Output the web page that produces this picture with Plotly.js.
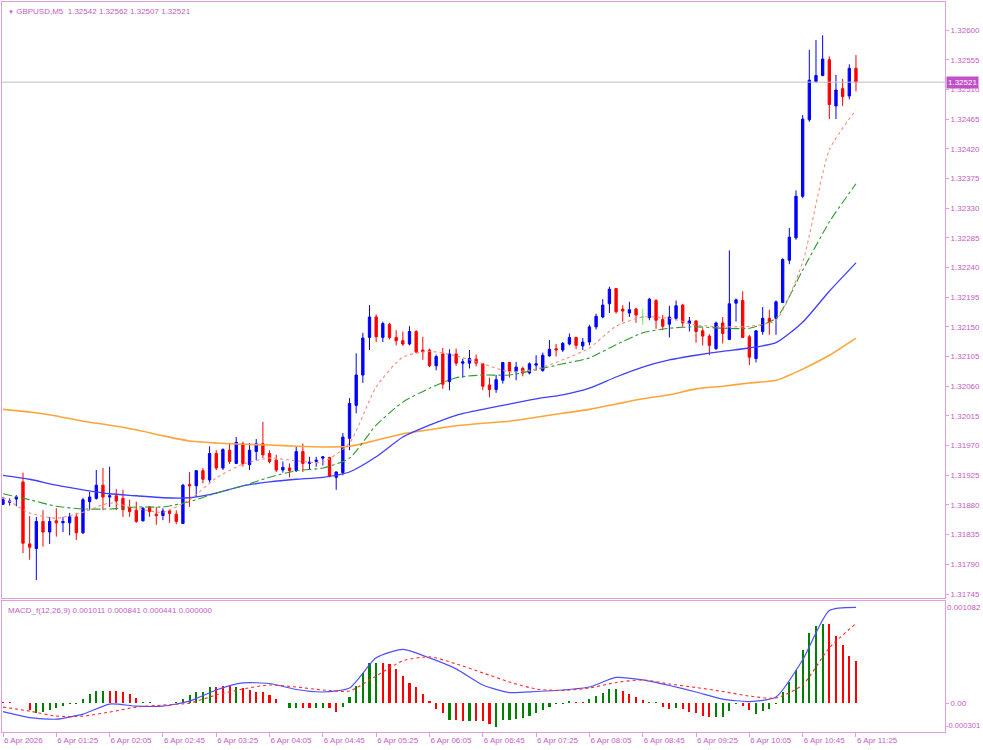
<!DOCTYPE html>
<html><head><meta charset="utf-8">
<script src="https://cdn.plot.ly/plotly-3.0.1.min.js"></script>
<style>body{margin:0;background:#fff}#chart{width:983px;height:750px}</style>
</head><body><div id="chart"></div>
<script>
const symbolName = 'GBPUSD,M5';
const firstBarMinute = 45;   // 00:45
const barMinutes = 5;

const candleOpen = [
1.31881,1.31884,1.31889,1.31915,1.31821,1.31814,1.31855,1.31839,1.31856,1.31853,
1.31853,1.31862,1.31838,1.31885,1.31890,1.31910,1.31892,1.31894,1.31890,1.31877,
1.31872,1.31856,1.31877,1.31866,1.31864,1.31871,1.31866,1.31852,1.31911,1.31909,
1.31932,1.31918,1.31958,1.31936,1.31963,1.31943,1.31973,1.31941,1.31961,1.31973,
1.31958,1.31948,1.31933,1.31936,1.31932,1.31961,1.31943,1.31946,1.31951,1.31952,
1.31922,1.31929,1.31981,1.32031,1.32077,1.32134,1.32165,1.32134,1.32154,1.32134,
1.32129,1.32124,1.32143,1.32115,1.32115,1.32091,1.32109,1.32067,1.32109,1.32095,
1.32095,1.32101,1.32094,1.32062,1.32055,1.32069,1.32096,1.32082,1.32087,1.32080,
1.32092,1.32084,1.32106,1.32117,1.32115,1.32124,1.32134,1.32121,1.32127,1.32150,
1.32165,1.32185,1.32208,1.32177,1.32171,1.32177,1.32165,1.32164,1.32190,1.32161,
1.32154,1.32163,1.32183,1.32155,1.32159,1.32144,1.32136,1.32117,1.32156,1.32131,
1.32186,1.32190,1.32135,1.32102,1.32143,1.32163,1.32163,1.32187,1.32251,1.32285,
1.32348,1.32464,1.32522,1.32531,1.32555,1.32485,1.32511,1.32500,1.32542];
const candleHigh = [
1.31892,1.31890,1.31895,1.31929,1.31863,1.31862,1.31872,1.31862,1.31875,1.31862,
1.31868,1.31868,1.31891,1.31900,1.31933,1.31936,1.31938,1.31904,1.31903,1.31888,
1.31885,1.31877,1.31878,1.31877,1.31875,1.31873,1.31872,1.31912,1.31930,1.31933,
1.31936,1.31969,1.31963,1.31966,1.31974,1.31983,1.31976,1.31974,1.31980,1.32006,
1.31963,1.31956,1.31946,1.31943,1.31968,1.31973,1.31953,1.31953,1.31954,1.31953,
1.31931,1.31989,1.32042,1.32110,1.32141,1.32183,1.32169,1.32158,1.32156,1.32145,
1.32143,1.32151,1.32145,1.32135,1.32117,1.32108,1.32118,1.32116,1.32117,1.32102,
1.32115,1.32108,1.32095,1.32073,1.32077,1.32097,1.32097,1.32097,1.32090,1.32096,
1.32107,1.32111,1.32130,1.32124,1.32127,1.32140,1.32135,1.32133,1.32153,1.32170,
1.32192,1.32211,1.32209,1.32183,1.32188,1.32179,1.32177,1.32194,1.32192,1.32168,
1.32182,1.32190,1.32185,1.32165,1.32160,1.32148,1.32139,1.32158,1.32165,1.32266,
1.32193,1.32204,1.32138,1.32145,1.32180,1.32176,1.32190,1.32254,1.32300,1.32357,
1.32471,1.32570,1.32585,1.32592,1.32560,1.32532,1.32526,1.32548,1.32562];
const candleLow = [
1.31880,1.31879,1.31878,1.31807,1.31797,1.31766,1.31817,1.31821,1.31832,1.31839,
1.31834,1.31827,1.31836,1.31872,1.31888,1.31872,1.31877,1.31872,1.31862,1.31862,
1.31853,1.31855,1.31862,1.31850,1.31857,1.31853,1.31851,1.31851,1.31877,1.31892,
1.31913,1.31914,1.31933,1.31933,1.31942,1.31942,1.31938,1.31933,1.31948,1.31951,
1.31943,1.31930,1.31929,1.31922,1.31930,1.31930,1.31933,1.31938,1.31940,1.31922,
1.31903,1.31925,1.31963,1.32019,1.32065,1.32115,1.32127,1.32127,1.32131,1.32122,
1.32121,1.32122,1.32110,1.32100,1.32089,1.32084,1.32056,1.32054,1.32091,1.32073,
1.32087,1.32090,1.32054,1.32043,1.32050,1.32064,1.32073,1.32069,1.32075,1.32078,
1.32084,1.32082,1.32105,1.32105,1.32112,1.32122,1.32116,1.32115,1.32122,1.32146,
1.32163,1.32171,1.32170,1.32158,1.32165,1.32156,1.32153,1.32160,1.32147,1.32145,
1.32134,1.32160,1.32150,1.32143,1.32126,1.32122,1.32107,1.32115,1.32125,1.32130,
1.32158,1.32133,1.32092,1.32096,1.32138,1.32138,1.32138,1.32186,1.32245,1.32282,
1.32345,1.32461,1.32520,1.32530,1.32465,1.32465,1.32485,1.32495,1.32507];
const candleClose = [
1.31888,1.31886,1.31892,1.31822,1.31816,1.31855,1.31839,1.31855,1.31853,1.31855,
1.31862,1.31838,1.31888,1.31892,1.31910,1.31892,1.31894,1.31886,1.31873,1.31870,
1.31855,1.31875,1.31870,1.31864,1.31871,1.31867,1.31855,1.31910,1.31909,1.31932,
1.31919,1.31958,1.31936,1.31964,1.31946,1.31975,1.31943,1.31963,1.31973,1.31956,
1.31946,1.31933,1.31937,1.31932,1.31961,1.31943,1.31945,1.31948,1.31953,1.31923,
1.31930,1.31983,1.32034,1.32077,1.32133,1.32165,1.32135,1.32155,1.32134,1.32129,
1.32124,1.32143,1.32112,1.32112,1.32091,1.32105,1.32063,1.32109,1.32095,1.32097,
1.32102,1.32095,1.32060,1.32055,1.32070,1.32096,1.32083,1.32089,1.32080,1.32094,
1.32094,1.32107,1.32116,1.32115,1.32125,1.32134,1.32122,1.32127,1.32150,1.32166,
1.32183,1.32207,1.32173,1.32174,1.32176,1.32168,1.32165,1.32192,1.32160,1.32151,
1.32165,1.32182,1.32156,1.32159,1.32143,1.32136,1.32122,1.32156,1.32140,1.32185,
1.32191,1.32134,1.32104,1.32144,1.32163,1.32158,1.32188,1.32252,1.32286,1.32348,
1.32465,1.32524,1.32531,1.32556,1.32487,1.32509,1.32499,1.32542,1.32521];

// moving averages read every 4th bar
const maSampleStep = 4;
const maOrange = [1.32025,1.32021,1.32015,1.32007,1.32001,1.31994,1.31985,1.31977,1.31974,1.31972,1.31971,1.31969,1.31968,1.31969,1.31978,1.31988,1.31994,1.32000,1.32004,1.32007,1.32013,1.32019,1.32025,1.32033,1.32041,1.32047,1.32056,1.32060,1.32065,1.32069,1.32086,1.32107,1.32133];
const maBlue = [1.31925,1.31919,1.31910,1.31903,1.31897,1.31894,1.31891,1.31891,1.31898,1.31909,1.31915,1.31919,1.31922,1.31930,1.31953,1.31983,1.32001,1.32016,1.32025,1.32033,1.32041,1.32047,1.32057,1.32074,1.32089,1.32100,1.32107,1.32113,1.32118,1.32126,1.32157,1.32204,1.32247];
const maGreen = [1.31897,1.31888,1.31878,1.31874,1.31874,1.31877,1.31877,1.31885,1.31898,1.31909,1.31922,1.31932,1.31936,1.31951,1.32001,1.32036,1.32057,1.32073,1.32077,1.32077,1.32085,1.32094,1.32103,1.32123,1.32141,1.32148,1.32150,1.32148,1.32148,1.32163,1.32236,1.32309,1.32367];
const maSalmon = [1.31892,1.31868,1.31860,1.31869,1.31883,1.31875,1.31869,1.31888,1.31921,1.31942,1.31951,1.31947,1.31945,1.31974,1.32059,1.32104,1.32113,1.32106,1.32094,1.32082,1.32086,1.32100,1.32118,1.32151,1.32165,1.32163,1.32153,1.32150,1.32151,1.32160,1.32248,1.32418,1.32479];

// MACD lines read every 4th bar
const macdLine = [-0.000087,-0.000150,-0.000166,-0.000113,-0.000007,-0.000029,-0.000029,0.000024,0.000141,0.000215,0.000209,0.000146,0.000120,0.000162,0.000479,0.000569,0.000479,0.000363,0.000194,0.000114,0.000125,0.000141,0.000172,0.000273,0.000247,0.000188,0.000120,0.000045,0.000019,0.000067,0.000458,0.000977,0.001011];
const macdSignal = [-0.000039,-0.000081,-0.000134,-0.000134,-0.000092,-0.000039,-0.000018,0.000003,0.000088,0.000151,0.000194,0.000172,0.000141,0.000130,0.000289,0.000448,0.000490,0.000416,0.000321,0.000225,0.000151,0.000135,0.000162,0.000220,0.000247,0.000204,0.000167,0.000125,0.000077,0.000056,0.000194,0.000585,0.000841];
const macdHist = [
0.000010,0.000010,0.000008,0.000006,-0.000071,-0.000106,-0.000088,-0.000071,-0.000046,-0.000028,
-0.000008,-0.000006,0.000046,0.000095,0.000130,0.000130,0.000130,0.000130,0.000116,0.000095,
0.000060,0.000014,0.000010,0.000007,0.000007,0.000007,0.000010,0.000046,0.000088,0.000123,
0.000123,0.000176,0.000176,0.000187,0.000187,0.000176,0.000159,0.000141,0.000116,0.000116,
0.000088,0.000046,0.000007,-0.000053,-0.000053,-0.000053,-0.000053,-0.000053,-0.000053,-0.000053,
-0.000088,-0.000042,0.000071,0.000183,0.000317,0.000423,0.000423,0.000423,0.000416,0.000363,
0.000289,0.000219,0.000176,0.000099,0.000025,-0.000060,-0.000099,-0.000176,-0.000176,-0.000183,
-0.000183,-0.000183,-0.000183,-0.000219,-0.000247,-0.000176,-0.000176,-0.000166,-0.000159,-0.000130,
-0.000099,-0.000071,-0.000042,-0.000011,-0.000007,0.000025,0.000018,0.000018,0.000042,0.000078,
0.000113,0.000148,0.000148,0.000134,0.000099,0.000071,0.000035,0.000018,0.000010,-0.000035,
-0.000063,-0.000053,-0.000060,-0.000088,-0.000106,-0.000134,-0.000148,-0.000148,-0.000141,-0.000081,
-0.000011,-0.000028,-0.000071,-0.000113,-0.000078,-0.000063,-0.000007,0.000123,0.000229,0.000353,
0.000564,0.000741,0.000811,0.000839,0.000839,0.000712,0.000617,0.000501,0.000441];
const macdHistUp = [
0,0,0,0,0,1,1,1,1,1, 1,1,1,1,1,1,0,0,0,0, 0,1,1,1,1,1,1,1,1,1, 1,1,0,0,0,1,0,0,0,0,
0,0,0,1,1,0,0,1,1,0, 0,1,1,1,1,1,1,0,0,0, 0,0,0,0,0,0,0,1,0,0, 1,0,0,0,1,1,1,1,1,1,
1,1,1,1,1,1,0,0,1,1, 1,1,1,0,0,0,0,1,1,0, 0,1,0,0,0,0,0,1,1,1, 1,0,0,1,1,1,1,1,1,1,
1,1,1,1,0,0,0,0,0];
const macdMax = 0.001082, macdMin = -0.000301;

const priceTicks = [1.31745,1.31790,1.31835,1.31880,1.31925,1.31970,1.32015,1.32060,1.32105,1.32150,1.32195,1.32240,1.32285,1.32330,1.32375,1.32420,1.32465,1.32510,1.32555,1.32600];
const timeLabelEvery = 8;
const firstLabel = '6 Apr 2026';
const dayLabel = '6 Apr';

// ---- build
const pad = n => String(n).padStart(2, '0');
const barTimes = candleOpen.map((_, k) => { const m = firstBarMinute + barMinutes * k; return pad(Math.floor(m / 60)) + ':' + pad(m % 60); });
const maTimes = barTimes.filter((_, k) => k % maSampleStep === 0);
const last = candleClose.length - 1;

const AX = '#dda0dd', TXT = '#c45cc4';
const isDoji = candleOpen.map((o, k) => o === candleClose[k]);
const pick = (arr, want) => arr.filter((_, k) => isDoji[k] === want);

const traces = [
  {type:'candlestick', x: pick(barTimes,false), open: pick(candleOpen,false), high: pick(candleHigh,false), low: pick(candleLow,false), close: pick(candleClose,false),
   xaxis:'x', yaxis:'y', whiskerwidth:0,
   increasing:{line:{color:'#0000ff', width:1}, fillcolor:'#0000ff'},
   decreasing:{line:{color:'#ff0000', width:1}, fillcolor:'#ff0000'}, hoverinfo:'skip'},
  {type:'candlestick', x: pick(barTimes,true), open: pick(candleOpen,true), high: pick(candleHigh,true), low: pick(candleLow,true), close: pick(candleClose,true),
   xaxis:'x', yaxis:'y', whiskerwidth:0,
   increasing:{line:{color:'#66ee66', width:1}, fillcolor:'#66ee66'},
   decreasing:{line:{color:'#66ee66', width:1}, fillcolor:'#66ee66'}, hoverinfo:'skip'},
  {type:'scatter', mode:'lines', x: maTimes, y: maOrange, xaxis:'x', yaxis:'y', line:{color:'#ffa43a', width:1.6, shape:'spline', smoothing:0.6}},
  {type:'scatter', mode:'lines', x: maTimes, y: maBlue, xaxis:'x', yaxis:'y', line:{color:'#3f3fff', width:1.3, shape:'spline', smoothing:0.6}},
  {type:'scatter', mode:'lines', x: maTimes, y: maGreen, xaxis:'x', yaxis:'y', line:{color:'#2f9a2f', width:1.1, dash:'dashdot', shape:'spline', smoothing:0.6}},
  {type:'scatter', mode:'lines', x: maTimes, y: maSalmon, xaxis:'x', yaxis:'y', line:{color:'#fa8a7a', width:1.1, dash:'dot', shape:'spline', smoothing:0.6}},
  {type:'bar', x: barTimes, y: macdHist, xaxis:'x2', yaxis:'y2', width:0.32,
   marker:{color: macdHistUp.map(u => u ? '#008000' : '#ff0000'), line:{width:0}}},
  {type:'scatter', mode:'lines', x: maTimes, y: macdLine, xaxis:'x2', yaxis:'y2', line:{color:'#4f4fff', width:1.2, shape:'spline', smoothing:0.6}},
  {type:'scatter', mode:'lines', x: maTimes, y: macdSignal, xaxis:'x2', yaxis:'y2', line:{color:'#ff2a2a', width:1.1, dash:'dot', shape:'spline', smoothing:0.6}}
];

const fmt5 = v => v.toFixed(5);
const xRange = [-0.15, 141.36];
const tickIdx = barTimes.map((_, k) => k).filter(k => k % timeLabelEvery === 0);
const baseAxis = {showgrid:false, zeroline:false, showline:true, mirror:true, linecolor:AX, linewidth:1, fixedrange:true};
const catAxis = {type:'category', categoryorder:'array', categoryarray: barTimes, domain:[0,1], range:xRange};

const layout = {
  width:983, height:750,
  margin:{l:2, r:38, t:2, b:18, pad:0},
  paper_bgcolor:'#ffffff', plot_bgcolor:'#ffffff',
  showlegend:false, boxgap:0.5, bargap:0,
  font:{family:'Liberation Sans, Arial, sans-serif', size:8, color:TXT},
  xaxis: Object.assign({}, baseAxis, catAxis, {anchor:'y', showticklabels:false, ticks:'', rangeslider:{visible:false}}),
  yaxis: Object.assign({}, baseAxis, {domain:[0.1842,1], side:'right', range:[1.317397, 1.326425],
     tickvals: priceTicks, ticktext: priceTicks.map(fmt5), ticks:'outside', ticklen:3, tickcolor:AX}),
  xaxis2: Object.assign({}, baseAxis, catAxis, {anchor:'y2',
     tickvals: tickIdx.map(k => barTimes[k]), ticktext: tickIdx.map(k => k === 0 ? firstLabel : dayLabel + ' ' + barTimes[k]),
     ticks:'outside', ticklen:4, tickcolor:AX, ticklabelposition:'outside right'}),
  yaxis2: Object.assign({}, baseAxis, {domain:[0,0.1801], side:'right', range:[macdMin, macdMax],
     tickvals:[0], ticktext:['0.00'], ticks:'outside', ticklen:3, tickcolor:AX}),
  shapes:[
    {type:'line', xref:'paper', yref:'y', x0:0, x1:1, y0:candleClose[last], y1:candleClose[last], line:{color:'#b8c0c8', width:1}}
  ],
  annotations:[
    {xref:'paper', yref:'y', x:1, xanchor:'left', xshift:1, y:candleClose[last], yanchor:'middle', text:fmt5(candleClose[last]),
     showarrow:false, bgcolor:'#c050c8', font:{color:'#ffffff', size:8}, borderpad:1},
    {xref:'paper', yref:'paper', x:0, y:1, xanchor:'left', yanchor:'top', xshift:4, yshift:-3, showarrow:false,
     text:'<span style="font-size:6px">▼</span>\u00a0' + symbolName + '\u00a0\u00a0' + [candleOpen[last], candleHigh[last], candleLow[last], candleClose[last]].map(fmt5).join(' ')},
    {xref:'paper', yref:'paper', x:0, y:0.1801, xanchor:'left', yanchor:'top', xshift:4, yshift:-3, showarrow:false,
     text:'MACD_f(12,26,9) ' + [macdLine[macdLine.length-1], macdSignal[macdSignal.length-1], macdHist[last], 0].map(v => v.toFixed(6)).join(' ')},
    {xref:'paper', yref:'y2', x:1, xanchor:'left', xshift:0, y:macdMax, yanchor:'top', showarrow:false, text:macdMax.toFixed(6)},
    {xref:'paper', yref:'y2', x:1, xanchor:'left', xshift:-1, y:macdMin, yanchor:'bottom', showarrow:false, text:macdMin.toFixed(6), font:{size:7.6}}
  ]
};

Plotly.newPlot('chart', traces, layout, {staticPlot:true, displayModeBar:false});
</script>
</body></html>
